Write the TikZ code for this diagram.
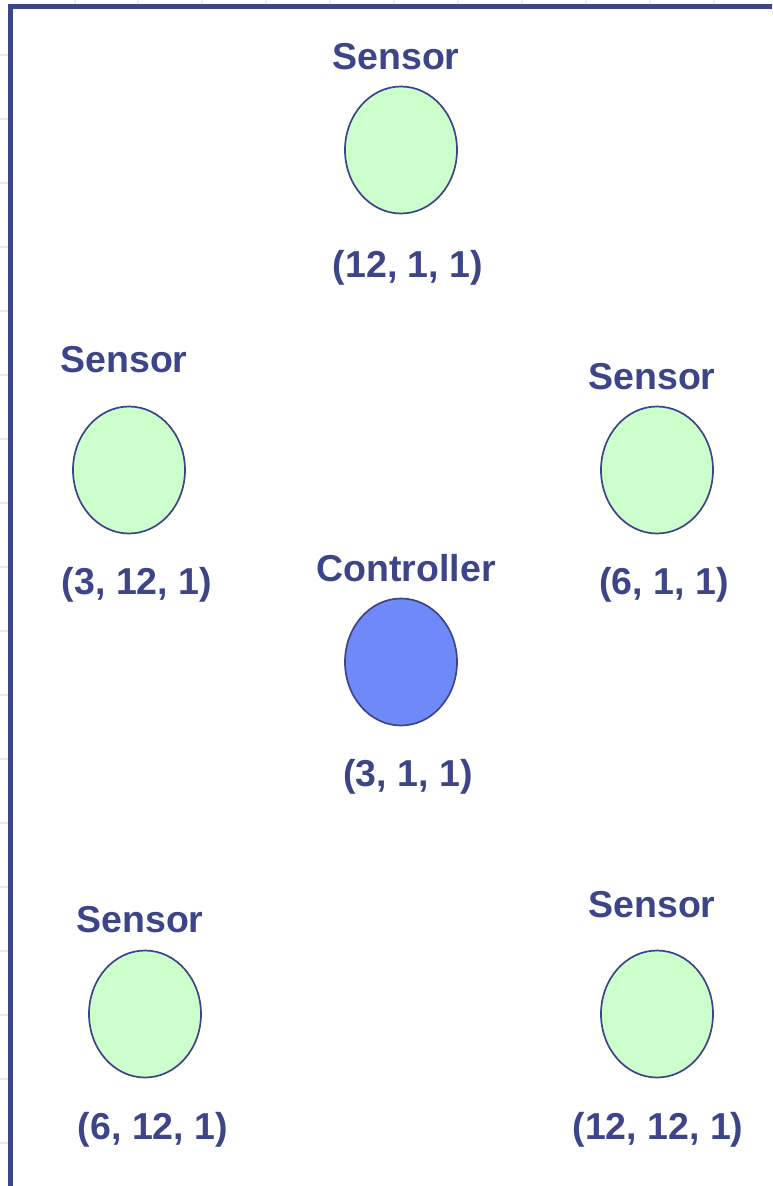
\documentclass[tikz,border=0pt]{standalone}
\usepackage{fontspec}
\setmainfont{Liberation Sans}
\usetikzlibrary{shapes.geometric}
\definecolor{navy}{HTML}{3D4488}
\definecolor{sensfill}{HTML}{CCFFCC}
\definecolor{ctrlfill}{HTML}{6F8AF8}
\definecolor{gridc}{HTML}{E6EBF7}
\tikzset{
  lbl/.style={text=navy, font=\fontsize{37.5}{41}\selectfont\bfseries, inner sep=0pt},
  sens/.style={ellipse, draw=navy, line width=1.7pt, fill=sensfill, minimum width=112pt, minimum height=127pt, inner sep=0pt},
  ctrl/.style={sens, fill=ctrlfill},
}
\begin{document}
\begin{tikzpicture}[x=1pt,y=-1pt]
\useasboundingbox (0,0) rectangle (772,1186);
% faint background grid visible outside the frame
\begin{scope}
\clip (0,0) rectangle (8,1186);
\foreach \y in {55,119,183,247,311,375,439,503,567,631,695,759,823,887,951,1015,1079,1143}
  \draw[gridc, line width=1.2pt] (0,\y) -- (8,\y);
\end{scope}
\begin{scope}
\clip (0,0) rectangle (772,3.5);
\foreach \x in {75,138,202,266,330,394,458,522,586,650,714}
  \draw[gridc, line width=1.2pt] (\x,0) -- (\x,3.5);
\end{scope}
% frame
\draw[navy, line width=5pt] (10.5,1186) -- (10.5,6.5) -- (772,6.5);
% nodes
\node[sens] (s1) at (401,150) {};
\node[lbl] (s1t) at (396,57) {Sensor};
\node[lbl] (s1c) at (408,268) {(12, 1, 1)};
\node[sens] (s2) at (129,470) {};
\node[lbl] (s2t) at (124,360) {Sensor};
\node[lbl] (s2c) at (137,585) {(3, 12, 1)};
\node[sens] (s3) at (657,470) {};
\node[lbl] (s3t) at (652,377) {Sensor};
\node[lbl] (s3c) at (664,585) {(6, 1, 1)};
\node[ctrl] (c) at (401,662) {};
\node[lbl] (ct) at (406,568) {Controller};
\node[lbl] (cc) at (408,777) {(3, 1, 1)};
\node[sens] (s4) at (145,1014) {};
\node[lbl] (s4t) at (140,920) {Sensor};
\node[lbl] (s4c) at (153,1130) {(6, 12, 1)};
\node[sens] (s5) at (657,1014) {};
\node[lbl] (s5t) at (652,905) {Sensor};
\node[lbl] (s5c) at (658,1130) {(12, 12, 1)};
\end{tikzpicture}
\end{document}
